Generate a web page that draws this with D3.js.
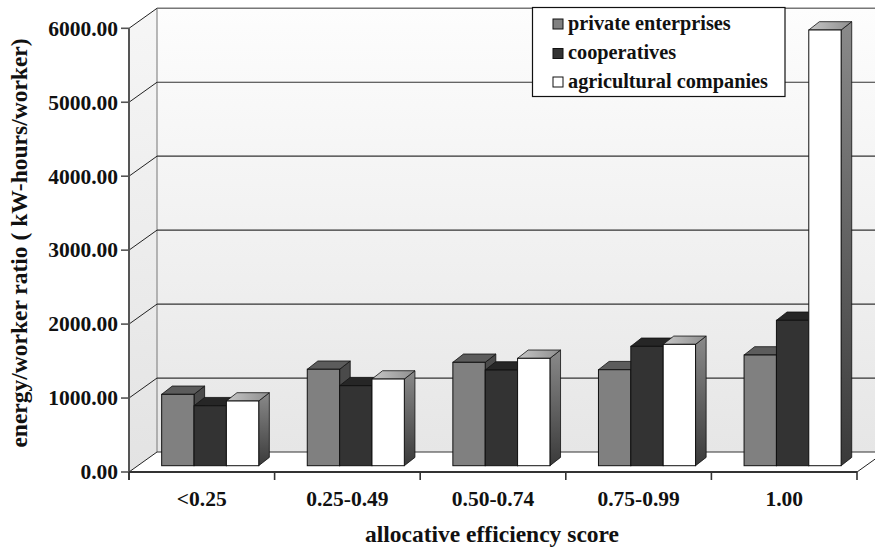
<!DOCTYPE html>
<html>
<head>
<meta charset="utf-8">
<script src="https://cdn.jsdelivr.net/npm/d3@7"></script>
<style>
  html, body { margin: 0; padding: 0; background: #fff; }
  svg { display: block; }
  text { font-family: "Liberation Serif", "Times New Roman", serif; font-weight: bold; fill: #111; }
</style>
</head>
<body>
<svg id="chart" width="875" height="549"></svg>
<script>
// Energy/worker ratio by allocative efficiency score class
const categories = ["<0.25", "0.25-0.49", "0.50-0.74", "0.75-0.99", "1.00"];
const seriesNames = ["private enterprises", "cooperatives", "agricultural companies"];
const privateEnterprises = [965, 1304, 1398, 1298, 1497];
const cooperatives = [811, 1082, 1294, 1614, 1966];
const agriculturalCompanies = [875, 1172, 1452, 1641, 5892];
const yTicks = [0, 1000, 2000, 3000, 4000, 5000, 6000];

const seriesValues = [privateEnterprises, cooperatives, agriculturalCompanies];

const svg = d3.select("#chart");
const W = 875, H = 549;

// plot frame (front plane)
const plotLeft = 129, plotRight = 857, plotBottom = 472, plotTop = 28.3;
// wall depth projection
const wallDx = 28, wallDy = -20;
// bar placement in depth
const barOx = 8.4, barOy = -6.3, barDx = 10.6, barDy = -8.3;

const x = d3.scaleBand().domain(categories).range([plotLeft, plotRight]).paddingInner(0).paddingOuter(0);
const xs = d3.scaleBand().domain(seriesNames).range([0, x.bandwidth()]).paddingInner(0).paddingOuter(0.75);
const y = d3.scaleLinear().domain([0, 6000]).range([plotBottom, plotTop]);

const defs = svg.append("defs");
const backGrad = defs.append("linearGradient").attr("id", "backWall").attr("x1", 0).attr("y1", 0).attr("x2", 0).attr("y2", 1);
backGrad.append("stop").attr("offset", "0%").attr("stop-color", "#fdfdfd");
backGrad.append("stop").attr("offset", "100%").attr("stop-color", "#e6e6e6");
const sideGrad = defs.append("linearGradient").attr("id", "sideWall").attr("x1", 0).attr("y1", 0).attr("x2", 0).attr("y2", 1);
sideGrad.append("stop").attr("offset", "0%").attr("stop-color", "#f6f6f6");
sideGrad.append("stop").attr("offset", "100%").attr("stop-color", "#e3e3e3");
const agriTop = defs.append("linearGradient").attr("id", "agriTop").attr("x1", 0).attr("y1", 0).attr("x2", 1).attr("y2", 0);
agriTop.append("stop").attr("offset", "0%").attr("stop-color", "#c6c6c6");
agriTop.append("stop").attr("offset", "100%").attr("stop-color", "#8e8e8e");
const agriSide = defs.append("linearGradient").attr("id", "agriSide").attr("x1", 0).attr("y1", 0).attr("x2", 0).attr("y2", 1);
agriSide.append("stop").attr("offset", "0%").attr("stop-color", "#8a8a8a");
agriSide.append("stop").attr("offset", "100%").attr("stop-color", "#3a3a3a");

const styles = [
  { front: "#808080", top: "#5c5c5c", side: "#4a4a4a", legend: "#808080" },
  { front: "#333333", top: "#262626", side: "#1c1c1c", legend: "#333333" },
  { front: "#ffffff", top: "url(#agriTop)", side: "url(#agriSide)", legend: "#ffffff" }
];

const pts = p => p.map(d => d.join(",")).join(" ");

// walls and floor
const walls = svg.append("g");
walls.append("polygon")
  .attr("points", pts([[plotLeft + wallDx, plotTop + wallDy], [W + 20, plotTop + wallDy], [W + 20, plotBottom + wallDy], [plotLeft + wallDx, plotBottom + wallDy]]))
  .attr("fill", "url(#backWall)");
walls.append("polygon")
  .attr("points", pts([[plotLeft, plotTop], [plotLeft + wallDx, plotTop + wallDy], [plotLeft + wallDx, plotBottom + wallDy], [plotLeft, plotBottom]]))
  .attr("fill", "url(#sideWall)");
walls.append("polygon")
  .attr("points", pts([[plotLeft, plotBottom], [plotLeft + wallDx, plotBottom + wallDy], [plotRight + wallDx, plotBottom + wallDy], [plotRight, plotBottom]]))
  .attr("fill", "#ffffff");

// back wall left edge
walls.append("line")
  .attr("x1", plotLeft + wallDx).attr("x2", plotLeft + wallDx)
  .attr("y1", plotTop + wallDy).attr("y2", plotBottom + wallDy)
  .attr("stroke", "#8a8a8a").attr("stroke-width", 1.2);

// gridlines on back wall and side wall
yTicks.forEach(v => {
  const yy = y(v);
  walls.append("line")
    .attr("x1", plotLeft + wallDx).attr("x2", W + 20)
    .attr("y1", yy + wallDy).attr("y2", yy + wallDy)
    .attr("stroke", v === 6000 ? "#777" : "#333").attr("stroke-width", v === 6000 ? 1.6 : 1.2);
  walls.append("line")
    .attr("x1", plotLeft).attr("x2", plotLeft + wallDx)
    .attr("y1", yy).attr("y2", yy + wallDy)
    .attr("stroke", "#222").attr("stroke-width", 1);
});
// floor right edge
walls.append("line")
  .attr("x1", plotRight).attr("x2", plotRight + wallDx)
  .attr("y1", plotBottom).attr("y2", plotBottom + wallDy)
  .attr("stroke", "#222").attr("stroke-width", 1);

// bars: drawn left to right so each bar hides its neighbour's side face
const bars = svg.append("g");
categories.forEach((cat, ci) => {
  seriesNames.forEach((s, si) => {
    const v = seriesValues[si][ci];
    const st = styles[si];
    const x0 = x(cat) + xs(s) + barOx;
    const x1 = x0 + xs.bandwidth();
    const yb = y(0) + barOy;
    const yt = y(v) + barOy;
    bars.append("polygon")
      .attr("points", pts([[x1, yt], [x1 + barDx, yt + barDy], [x1 + barDx, yb + barDy], [x1, yb]]))
      .attr("fill", st.side).attr("stroke", "#111").attr("stroke-width", 0.8).attr("stroke-linejoin", "round");
    bars.append("polygon")
      .attr("points", pts([[x0, yt], [x0 + barDx, yt + barDy], [x1 + barDx, yt + barDy], [x1, yt]]))
      .attr("fill", st.top).attr("stroke", "#111").attr("stroke-width", 0.8).attr("stroke-linejoin", "round");
    bars.append("rect")
      .attr("x", x0).attr("y", yt).attr("width", x1 - x0).attr("height", yb - yt)
      .attr("fill", st.front).attr("stroke", "#111").attr("stroke-width", 1);
  });
});

// axes
const axes = svg.append("g");
axes.append("line")
  .attr("x1", plotLeft).attr("x2", plotLeft).attr("y1", plotTop).attr("y2", plotBottom + 8)
  .attr("stroke", "#555").attr("stroke-width", 2);
axes.append("line")
  .attr("x1", plotLeft).attr("x2", plotRight).attr("y1", plotBottom).attr("y2", plotBottom)
  .attr("stroke", "#333").attr("stroke-width", 2);

yTicks.forEach(v => {
  axes.append("line")
    .attr("x1", plotLeft - 8).attr("x2", plotLeft).attr("y1", y(v)).attr("y2", y(v))
    .attr("stroke", "#555").attr("stroke-width", 1.6);
  axes.append("text")
    .attr("x", 118).attr("y", y(v)).attr("dy", "0.34em")
    .attr("text-anchor", "end").attr("font-size", 21.5)
    .text(d3.format(".2f")(v));
});

const catTicks = categories.map(c => x(c)).concat([plotRight]);
catTicks.forEach(t => {
  axes.append("line")
    .attr("x1", t).attr("x2", t).attr("y1", plotBottom).attr("y2", plotBottom + 8)
    .attr("stroke", "#333").attr("stroke-width", 1.6);
});
categories.forEach(c => {
  axes.append("text")
    .attr("x", x(c) + x.bandwidth() / 2).attr("y", 506)
    .attr("text-anchor", "middle").attr("font-size", 21.5)
    .text(c);
});

// axis titles
svg.append("text")
  .attr("x", 492).attr("y", 542)
  .attr("text-anchor", "middle").attr("font-size", 23.5)
  .text("allocative efficiency score");
svg.append("text")
  .attr("transform", "translate(27,243) rotate(-90)")
  .attr("text-anchor", "middle").attr("font-size", 23.5)
  .text("energy/worker ratio ( kW-hours/worker)");

// legend
const lg = svg.append("g");
lg.append("rect")
  .attr("x", 532.5).attr("y", 7.5).attr("width", 252.5).attr("height", 89)
  .attr("fill", "#fff").attr("stroke", "#111").attr("stroke-width", 1.2);
const rowY = [24, 53.5, 82];
seriesNames.forEach((s, i) => {
  lg.append("rect")
    .attr("x", 553).attr("y", rowY[i] - 5).attr("width", 10).attr("height", 10)
    .attr("fill", styles[i].legend).attr("stroke", "#111").attr("stroke-width", 1);
  lg.append("text")
    .attr("x", 568).attr("y", rowY[i] + 5.5)
    .attr("font-size", 20.3)
    .text(s);
});
</script>
</body>
</html>
